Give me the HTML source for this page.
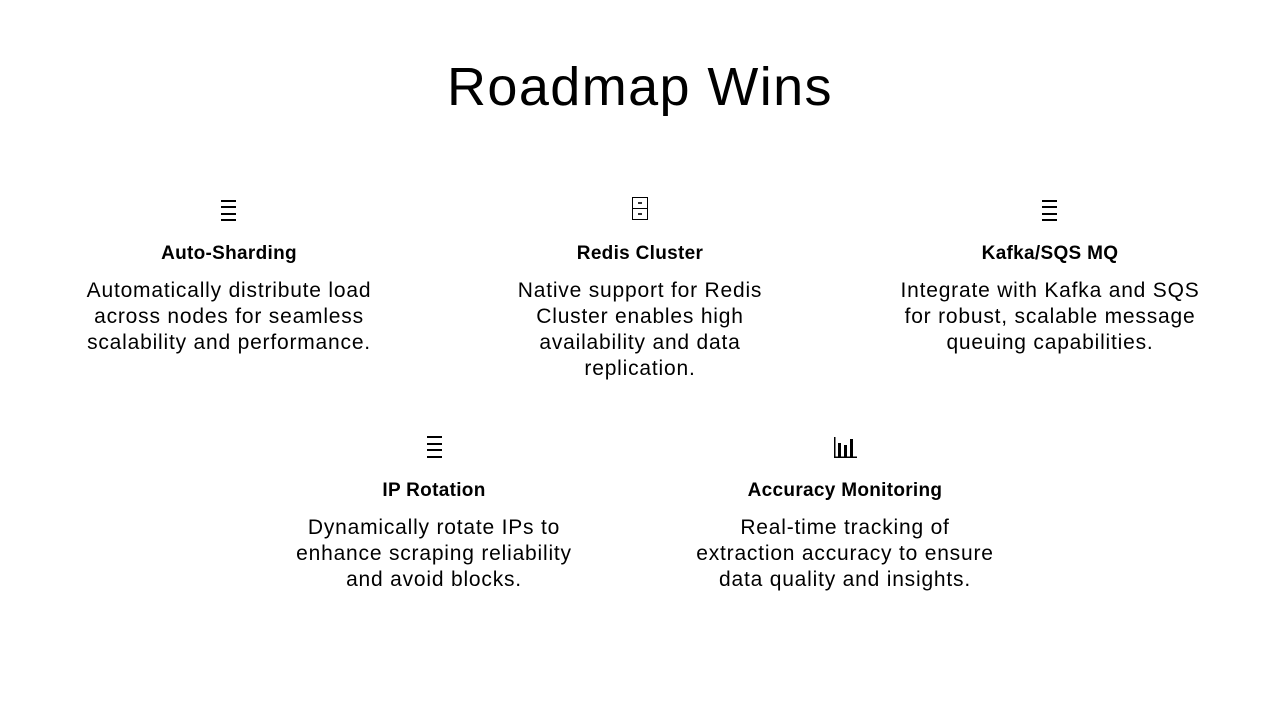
<!DOCTYPE html>
<html>
<head>
<meta charset="utf-8">
<style>
  html,body{margin:0;padding:0;background:#fff;}
  body{width:1280px;height:720px;position:relative;overflow:hidden;font-family:"Liberation Sans",sans-serif;color:#000;}
  .title{position:absolute;left:0;width:1280px;top:60px;text-align:center;font-size:54px;line-height:54px;letter-spacing:1.4px;font-weight:400;}
  .h{position:absolute;width:440px;text-align:center;font-size:19px;line-height:18px;font-weight:700;letter-spacing:0.3px;white-space:nowrap;}
  .b{position:absolute;width:440px;text-align:center;font-size:21px;line-height:26px;letter-spacing:0.8px;white-space:nowrap;}
  .ln{position:absolute;height:2px;background:#000;}
</style>
</head>
<body>
<div class="title">Roadmap Wins</div>

<div class="ln" style="left:221px;top:200px;width:15px;"></div>
<div class="ln" style="left:221px;top:206px;width:15px;"></div>
<div class="ln" style="left:221px;top:213px;width:15px;"></div>
<div class="ln" style="left:221px;top:219px;width:15px;"></div>

<svg style="position:absolute;left:0;top:0" width="1280" height="720">
  <rect x="632.5" y="197.5" width="15" height="22" fill="none" stroke="#000" stroke-width="1"/>
  <line x1="632.5" y1="208.5" x2="647.5" y2="208.5" stroke="#000" stroke-width="1"/>
  <rect x="638" y="202" width="4" height="2" fill="#333"/>
  <rect x="638" y="213" width="4" height="2" fill="#333"/>
  <rect x="834" y="437" width="1.5" height="21" fill="#000"/>
  <rect x="834" y="456.5" width="23" height="1.5" fill="#000"/>
  <rect x="838" y="443" width="3" height="14" fill="#000"/>
  <rect x="844" y="445" width="3" height="12" fill="#000"/>
  <rect x="850" y="439" width="3" height="18" fill="#000"/>
</svg>

<div class="ln" style="left:1042px;top:200px;width:15px;"></div>
<div class="ln" style="left:1042px;top:206px;width:15px;"></div>
<div class="ln" style="left:1042px;top:213px;width:15px;"></div>
<div class="ln" style="left:1042px;top:219px;width:15px;"></div>

<div class="ln" style="left:427px;top:436px;width:15px;"></div>
<div class="ln" style="left:427px;top:443px;width:15px;"></div>
<div class="ln" style="left:427px;top:449px;width:15px;"></div>
<div class="ln" style="left:427px;top:456px;width:15px;"></div>

<div class="h" style="left:9px;top:245px;">Auto-Sharding</div>
<div class="b" style="left:9px;top:278px;">Automatically distribute load<br>across nodes for seamless<br>scalability and performance.</div>

<div class="h" style="left:420px;top:245px;">Redis Cluster</div>
<div class="b" style="left:420px;top:278px;">Native support for Redis<br>Cluster enables high<br>availability and data<br>replication.</div>

<div class="h" style="left:830px;top:245px;">Kafka/SQS MQ</div>
<div class="b" style="left:830px;top:278px;">Integrate with Kafka and SQS<br>for robust, scalable message<br>queuing capabilities.</div>

<div class="h" style="left:214px;top:482px;">IP Rotation</div>
<div class="b" style="left:214px;top:515px;">Dynamically rotate IPs to<br>enhance scraping reliability<br>and avoid blocks.</div>

<div class="h" style="left:625px;top:482px;">Accuracy Monitoring</div>
<div class="b" style="left:625px;top:515px;">Real-time tracking of<br>extraction accuracy to ensure<br>data quality and insights.</div>
</body>
</html>
